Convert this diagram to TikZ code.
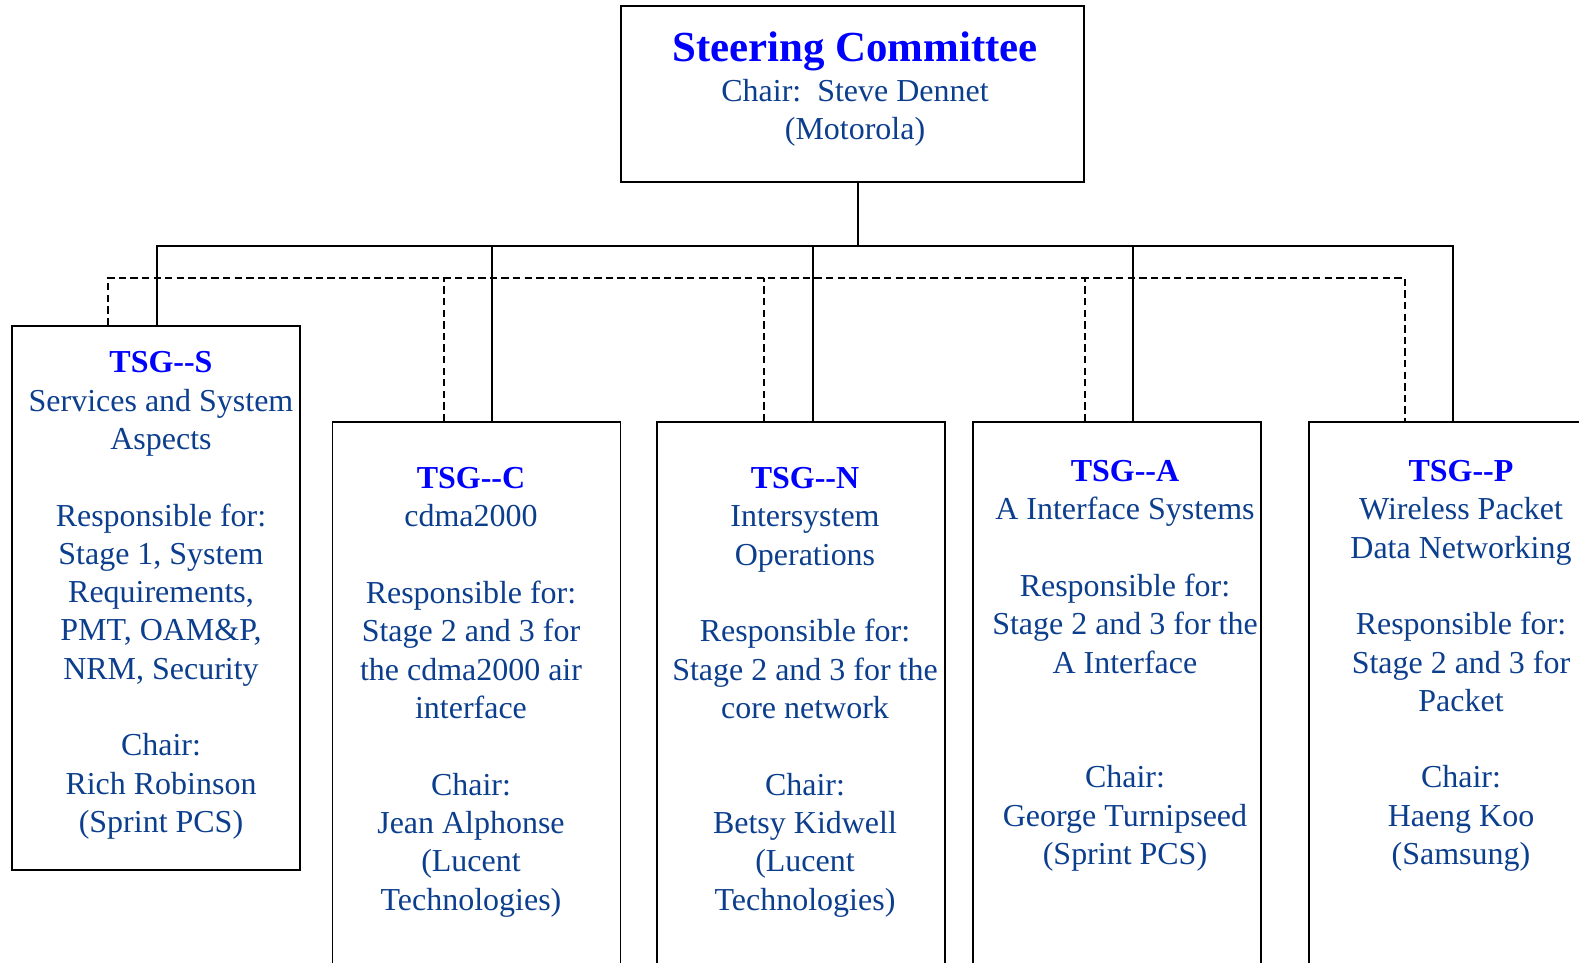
\documentclass[tikz,border=0pt]{standalone}
\usepackage{fontspec}
\setmainfont{Liberation Serif}[Ligatures=TeXOff]
\usetikzlibrary{calc}

\definecolor{headblue}{RGB}{0,0,255}
\definecolor{bodyblue}{RGB}{12,62,142}

\tikzset{
  grpbox/.style={draw, line width=0.9pt, rectangle, inner sep=0pt,
    minimum width=5.76cm, minimum height=11.56cm},
  grptext/.style={anchor=base, align=center, inner sep=0pt, text=bodyblue,
    font=\fontsize{18.2}{21.8}\selectfont},
  link/.style={line width=0.9pt},
  dlink/.style={line width=0.9pt, dash pattern=on 4.2pt off 2.4pt},
}
\newcommand{\tsg}[1]{\textbf{\textcolor{headblue}{#1}}}

\begin{document}
\begin{tikzpicture}[x=0.02cm, y=-0.02cm]
\useasboundingbox (0,0) rectangle (1579,963);
\clip (0,0) rectangle (1579,963);

% boxes
\node[grpbox, minimum width=9.26cm, minimum height=3.52cm] (sc) at (852.5,94) {};
\node[grpbox, minimum height=10.88cm] (tsgs) at (156,598) {};
\node[grpbox] (tsgc) at (476.5,711) {};
\node[grpbox] (tsgn) at (801,711) {};
\node[grpbox] (tsga) at (1117,711) {};
\node[grpbox] (tsgp) at (1453,711) {};

% buses
\coordinate (bus) at (0,246);
\coordinate (dbus) at (0,278);
\coordinate (sctop) at ([xshift=0.11cm]sc.south);
\draw[link] (sctop) -- (sctop |- bus);
\draw[link] ([xshift=0.02cm]tsgs.north) |- (tsgp.north |- bus) -- (tsgp.north);
\coordinate (sdash) at ([xshift=-0.96cm]tsgs.north);
\coordinate (pdash) at ([xshift=-0.96cm]tsgp.north);
\draw[dlink] (sdash) |- (pdash |- dbus) -- (pdash);
\foreach \g/\s/\d in {tsgc/15.5/-32.5, tsgn/12/-37, tsga/16/-32} {
  \coordinate (\g-s) at ([xshift=\s*0.02cm]\g.north);
  \coordinate (\g-d) at ([xshift=\d*0.02cm]\g.north);
  \draw[link] (\g-s) -- (\g-s |- bus);
  \draw[dlink] (\g-d) -- (\g-d |- dbus);
}

% texts (base = last line)
\node[anchor=base, inner sep=0pt, text=headblue, font=\fontsize{24.4}{29}\selectfont\bfseries] (sctitle) at (855,62) {Steering Committee};
\node[grptext] (scchair) at (855,139.5) {Chair:\hspace{0.5em}Steve Dennet\\(Motorola)};
\node[grptext] (stext) at (161,832.5) {\tsg{TSG--S}\\Services and System\\Aspects\\[\baselineskip]
  Responsible for:\\Stage 1, System\\Requirements,\\PMT, OAM\&P,\\NRM, Security\\[\baselineskip]
  Chair:\\Rich Robinson\\(Sprint PCS)};
\node[grptext] (ctext) at (471,910) {\tsg{TSG--C}\\cdma2000\\[\baselineskip]
  Responsible for:\\Stage 2 and 3 for\\the cdma2000 air\\interface\\[\baselineskip]
  Chair:\\Jean Alphonse\\(Lucent\\Technologies)};
\node[grptext] (ntext) at (805,910) {\tsg{TSG--N}\\Intersystem\\Operations\\[\baselineskip]
  Responsible for:\\Stage 2 and 3 for the\\core network\\[\baselineskip]
  Chair:\\Betsy Kidwell\\(Lucent\\Technologies)};
\node[grptext] (atext) at (1125,864.5) {\tsg{TSG--A}\\A Interface Systems\\[\baselineskip]
  Responsible for:\\Stage 2 and 3 for the\\A Interface\\[2\baselineskip]
  Chair:\\George Turnipseed\\(Sprint PCS)};
\node[grptext] (ptext) at (1461,864.5) {\tsg{TSG--P}\\Wireless Packet\\Data Networking\\[\baselineskip]
  Responsible for:\\Stage 2 and 3 for\\Packet\\[\baselineskip]
  Chair:\\Haeng Koo\\(Samsung)};
\end{tikzpicture}
\end{document}
